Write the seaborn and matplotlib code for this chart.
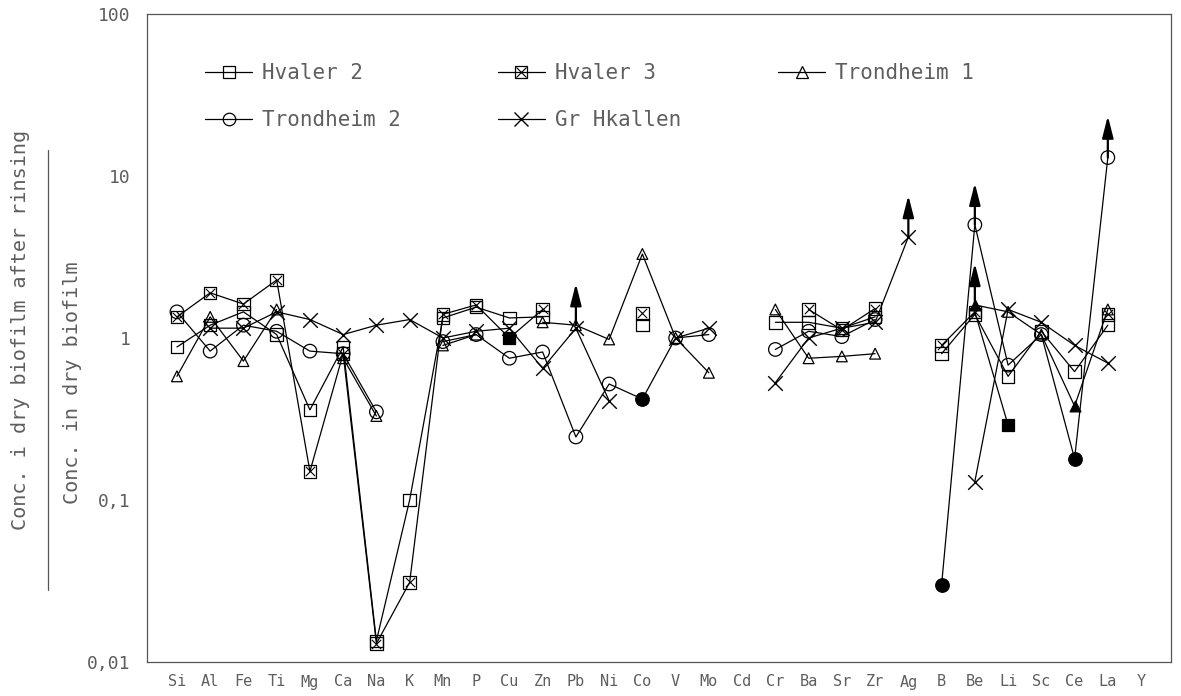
import numpy as np
import pandas as pd
import matplotlib
matplotlib.use("Agg")
import matplotlib.pyplot as plt
import seaborn as sns
from matplotlib.lines import Line2D
from matplotlib.ticker import FixedLocator, NullLocator

nan = np.nan

elements = ["Si", "Al", "Fe", "Ti", "Mg", "Ca", "Na", "K", "Mn", "P", "Cu", "Zn", "Pb", "Ni", "Co",
            "V", "Mo", "Cd", "Cr", "Ba", "Sr", "Zr", "Ag", "B", "Be", "Li", "Sc", "Ce", "La", "Y"]

hvaler2 = [0.88, 1.2, 1.45, 1.05, 0.36, 0.88, 0.0135, 0.10, 1.33, 1.55, 1.33, 1.35, nan, nan, 1.2,
           nan, nan, nan, 1.25, 1.25, 1.15, 1.35, nan, 0.8, 1.4, 0.58, 1.1, 0.62, 1.2, nan]
hvaler3 = [1.35, 1.9, 1.62, 2.28, 0.15, 0.8, 0.013, 0.031, 1.4, 1.6, 1.0, 1.5, nan, nan, 1.42,
           nan, nan, nan, nan, 1.5, 1.12, 1.52, nan, 0.9, 1.45, 0.29, nan, nan, 1.4, nan]
trondheim1 = [0.58, 1.35, 0.72, 1.5, nan, 0.75, 0.33, nan, 0.9, 1.05, nan, 1.25, 1.2, 0.98, 3.3,
              1.0, 0.61, nan, 1.5, 0.75, 0.77, 0.8, nan, nan, 1.6, 1.45, 1.05, 0.38, 1.5, nan]
trondheim2 = [1.45, 0.83, 1.2, 1.1, 0.83, 0.8, 0.35, nan, 0.95, 1.05, 0.75, 0.82, 0.245, 0.52, 0.42,
              1.0, 1.05, nan, 0.85, 1.1, 1.02, 1.3, nan, 0.03, 5.0, 0.68, 1.05, 0.18, 13.0, nan]
grotkallen = [nan, 1.15, 1.15, 1.45, 1.3, 1.05, 1.2, 1.3, 1.0, 1.1, 1.15, 0.65, 1.15, 0.41, nan,
              1.0, 1.15, nan, 0.53, 1.0, 1.15, 1.25, 4.2, nan, 0.13, 1.5, 1.25, 0.9, 0.7, nan]

series_names = ["Hvaler 2", "Hvaler 3", "Trondheim 1", "Trondheim 2", "Gr Hkallen"]
series_values = [hvaler2, hvaler3, trondheim1, trondheim2, grotkallen]

# points drawn with solid (filled) markers
solid_points = {"Hvaler 3": ["Cu", "Li"], "Trondheim 1": ["Be", "Ce"],
                "Trondheim 2": ["Co", "B", "Ce"]}
# points marked with an upward arrow (value above what is shown)
arrow_points = {"Trondheim 1": ["Pb", "Be"], "Trondheim 2": ["Be", "La"], "Gr Hkallen": ["Ag"]}

yticks = [0.01, 0.1, 1, 10, 100]
ytick_labels = ["0,01", "0,1", "1", "10", "100"]

marker_of = {"Hvaler 2": "s", "Hvaler 3": "s", "Trondheim 1": "^", "Trondheim 2": "o", "Gr Hkallen": "x"}
size_of = {"Hvaler 2": 80, "Hvaler 3": 80, "Trondheim 1": 60, "Trondheim 2": 95, "Gr Hkallen": 110}

sns.set_theme(style="white")
plt.rcParams["font.family"] = ["DejaVu Sans Mono", "DejaVu Sans"]
txt_color = "#5e5e5e"

fig = plt.figure(figsize=(11.81, 6.96), dpi=100)
ax = fig.add_axes([147 / 1181, 1 - 662 / 696, (1171 - 147) / 1181, (662 - 14) / 696])

# long data frame with segment ids so gaps break the lines
rows = []
for name, vals in zip(series_names, series_values):
    seg = 0
    for i, v in enumerate(vals):
        if np.isnan(v):
            seg += 1
            continue
        rows.append(dict(series=name, element=elements[i], x=i, y=v, seg=f"{name}-{seg}",
                         solid=elements[i] in solid_points.get(name, []),
                         arrow=elements[i] in arrow_points.get(name, [])))
df = pd.DataFrame(rows)

sns.lineplot(data=df, x="x", y="y", units="seg", estimator=None, sort=False,
             color="black", lw=0.9, ax=ax, legend=False, zorder=2)

for name in series_names:
    sub = df[df.series == name]
    hollow = sub[~sub.solid]
    solid = sub[sub.solid]
    m = marker_of[name]
    if m == "x":
        sns.scatterplot(data=hollow, x="x", y="y", marker="x", s=size_of[name], color="black",
                        linewidth=1.0, ax=ax, legend=False, zorder=3)
    else:
        sns.scatterplot(data=hollow, x="x", y="y", marker=m, s=size_of[name], facecolor="none",
                        edgecolor="black", linewidth=0.9, ax=ax, legend=False, zorder=3)
        if name == "Hvaler 3":
            sns.scatterplot(data=hollow, x="x", y="y", marker="x", s=45, color="black",
                            linewidth=0.8, ax=ax, legend=False, zorder=3)
    if len(solid):
        sns.scatterplot(data=solid, x="x", y="y", marker=m, s=size_of[name], color="black",
                        edgecolor="black", linewidth=0.9, ax=ax, legend=False, zorder=4)
    for _, r in sub[sub.arrow].iterrows():
        ax.annotate("", xy=(r.x, r.y), xytext=(0, 30), textcoords="offset points",
                    arrowprops=dict(arrowstyle="<|-,head_length=1.1,head_width=0.28",
                                    color="black", lw=1.6, shrinkA=0, shrinkB=0),
                    zorder=5)

ax.set_yscale("log")
ax.set_ylim(0.01, 100)
ax.set_xlim(-0.9, 29.9)
ax.yaxis.set_major_locator(FixedLocator(yticks))
ax.yaxis.set_minor_locator(NullLocator())
ax.set_yticklabels(ytick_labels)
ax.set_xticks(range(len(elements)))
ax.set_xticklabels(elements)
ax.set_xlabel("")
ax.set_ylabel("")
ax.tick_params(axis="x", direction="in", length=6, width=0.8, colors="#555555",
               labelsize=11, labelcolor=txt_color, pad=9)
ax.tick_params(axis="y", direction="in", length=7, width=0.8, colors="#555555",
               labelsize=13, labelcolor=txt_color, pad=12)
for sp in ax.spines.values():
    sp.set_visible(True)
    sp.set_color("#555555")
    sp.set_linewidth(0.9)
ax.grid(False)

# legend
handles = []
for name in series_names:
    m = marker_of[name]
    if m == "x":
        h = Line2D([], [], color="black", lw=0.9, marker="x", markersize=10, markeredgewidth=1.0)
    else:
        h = Line2D([], [], color="black", lw=0.9, marker=m, markersize=9,
                   markerfacecolor="none", markeredgecolor="black", markeredgewidth=0.9)
        if name == "Hvaler 3":
            hx = Line2D([], [], lw=0, marker="x", markersize=6.5, color="black",
                        markeredgewidth=0.8)
            h = (h, hx)
    handles.append(h)
order = [0, 3, 1, 4, 2]
leg = ax.legend([handles[i] for i in order], [series_names[i] for i in order], ncol=3,
                loc="upper left", bbox_to_anchor=(0.0566, 0.924), frameon=False,
                fontsize=15, handlelength=2.26, handletextpad=0.48, labelspacing=1.3,
                columnspacing=4.65, borderaxespad=0, borderpad=0)
for t in leg.get_texts():
    t.set_color(txt_color)

# y label as a fraction
fig.text(21 / 1181, 1 - 330 / 696, "Conc. i dry biofilm after rinsing", rotation=90,
         ha="center", va="center", fontsize=14.5, color=txt_color)
fig.text(72 / 1181, 1 - 383 / 696, "Conc. in dry biofilm", rotation=90,
         ha="center", va="center", fontsize=14.5, color=txt_color)
fig.add_artist(Line2D([48 / 1181, 48 / 1181], [1 - 150 / 696, 1 - 590 / 696],
                      color="#555555", lw=0.9))

fig.savefig("out.png", dpi=100, facecolor="white")
